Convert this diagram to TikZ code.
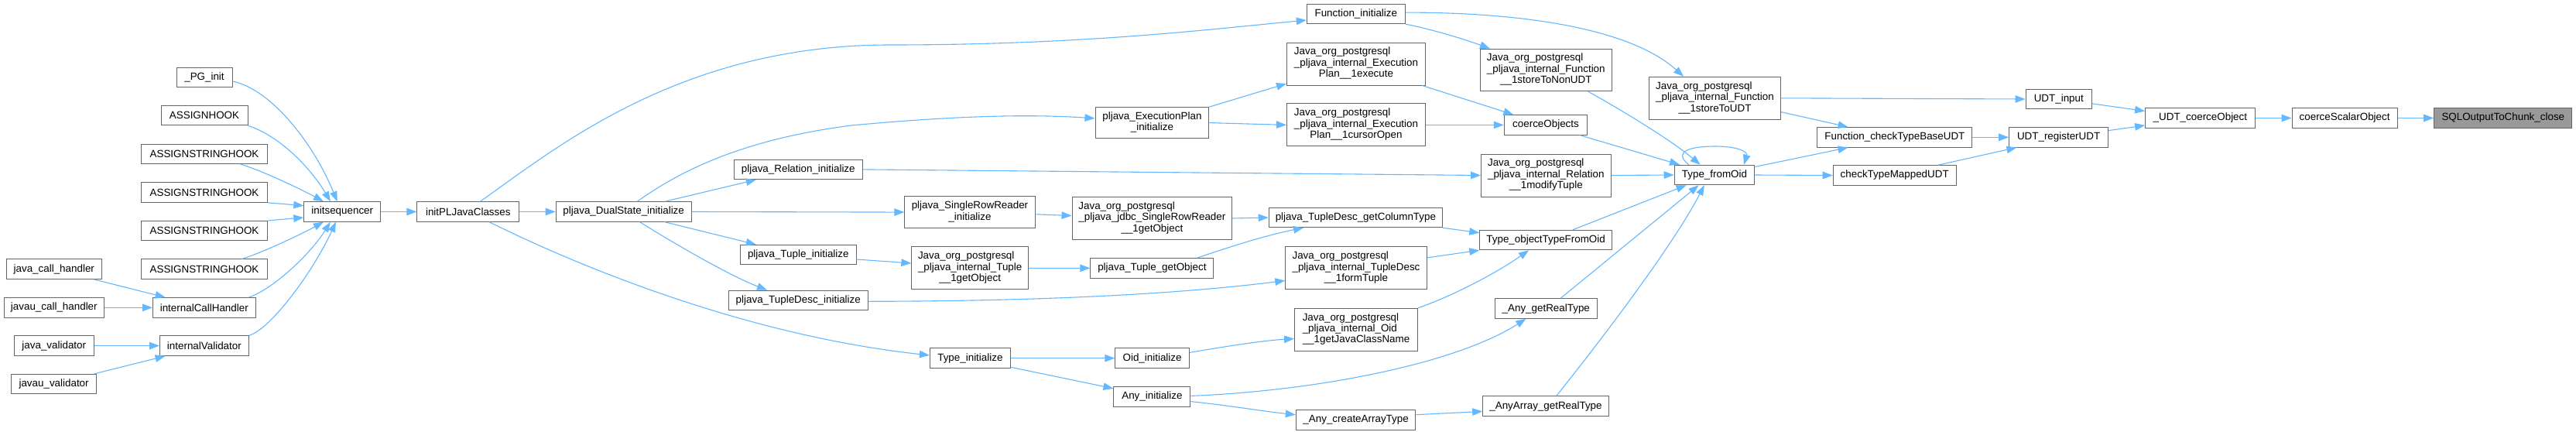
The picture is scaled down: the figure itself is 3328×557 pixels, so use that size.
\documentclass[tikz,border=0pt]{standalone}
\usepackage{fontspec}
\setmainfont{Liberation Sans}
\usetikzlibrary{arrows.meta,calc}
\definecolor{edgec}{HTML}{63B8FF}
\definecolor{borderc}{HTML}{666666}
\definecolor{rootc}{HTML}{999999}
\newcommand{\threel}[3]{\begin{tabular}{@{}l@{}}#1\\#2\\\multicolumn{1}{@{}c@{}}{#3}\end{tabular}}
\newcommand{\twol}[2]{\begin{tabular}{@{}c@{}}#1\\#2\end{tabular}}
\newcommand{\mknode}[6]{\node[box,minimum width=#4pt,minimum height=#5pt] (#1) at (#2,#3) {#6};}
\begin{document}
\begin{tikzpicture}[x=1pt,y=-1pt,
  box/.style={draw=borderc,line width=1pt,fill=white,inner sep=0pt,font=\fontsize{13.4pt}{14.4pt}\selectfont},
  e/.style={draw=edgec,line width=1.1pt,-{Triangle[length=13pt,width=9.5pt]}}]
\fill[white] (0,0) rectangle (3328,557);
\useasboundingbox (0,0) rectangle (3328,557);
% nodes
\mknode{pg}{264}{99.8}{72}{25.5}{\_PG\_init}
\mknode{ah}{264}{149.1}{112}{25.5}{ASSIGNHOOK}
\mknode{ash1}{264}{198.8}{163}{25.5}{ASSIGNSTRINGHOOK}
\mknode{ash2}{264}{248.6}{163}{25.5}{ASSIGNSTRINGHOOK}
\mknode{ash3}{264}{298.2}{163}{25.5}{ASSIGNSTRINGHOOK}
\mknode{ash4}{264}{347.7}{163}{25.5}{ASSIGNSTRINGHOOK}
\mknode{jch}{69.8}{347.7}{123}{25.5}{java\_call\_handler}
\mknode{juch}{69.8}{397.3}{129.6}{25.5}{javau\_call\_handler}
\mknode{ich}{263.8}{397.3}{132.5}{25.5}{internalCallHandler}
\mknode{jv}{69.8}{446.6}{103}{25.5}{java\_validator}
\mknode{iv}{263.9}{446.6}{115}{25.5}{internalValidator}
\mknode{juv}{69.6}{496.2}{110}{25.5}{javau\_validator}
\mknode{iseq}{442.3}{273.5}{99}{25.5}{initsequencer}
\mknode{ipjc}{604.8}{273.5}{131.8}{25.5}{initPLJavaClasses}
\mknode{ds}{805.7}{273.5}{175}{25.5}{pljava\_DualState\_initialize}
\mknode{ri}{1031.3}{218.9}{166}{25.5}{pljava\_Relation\_initialize}
\mknode{ti}{1031.3}{329.1}{149.7}{25.5}{pljava\_Tuple\_initialize}
\mknode{tdi}{1031.3}{387.9}{180.3}{25.5}{pljava\_TupleDesc\_initialize}
\mknode{epi}{1488.4}{158.6}{146.8}{40}{\twol{pljava\_ExecutionPlan}{\_initialize}}
\mknode{srri}{1253}{274.1}{168.2}{40.4}{\twol{pljava\_SingleRowReader}{\_initialize}}
\mknode{jsrr}{1488.4}{282}{206.8}{54.6}{\threel{Java\_org\_postgresql}{\_pljava\_jdbc\_SingleRowReader}{\_\_1getObject}}
\mknode{jtgo}{1253.2}{346.4}{150.7}{55}{\threel{Java\_org\_postgresql}{\_pljava\_internal\_Tuple}{\_\_1getObject}}
\mknode{tgo}{1488.4}{346.3}{159}{25.5}{pljava\_Tuple\_getObject}
\mknode{tyi}{1253.4}{462.7}{104}{25.5}{Type\_initialize}
\mknode{oi}{1488.6}{462.7}{95.7}{25.5}{Oid\_initialize}
\mknode{ai}{1488.4}{512.3}{99}{25.5}{Any\_initialize}
\mknode{gct}{1751.4}{281}{224.3}{25.5}{pljava\_TupleDesc\_getColumnType}
\mknode{fi}{1751.8}{17.9}{127}{25.5}{Function\_initialize}
\mknode{jex}{1752}{82.5}{179}{55}{\threel{Java\_org\_postgresql}{\_pljava\_internal\_Execution}{Plan\_\_1execute}}
\mknode{jco}{1752}{161.4}{179}{55}{\threel{Java\_org\_postgresql}{\_pljava\_internal\_Execution}{Plan\_\_1cursorOpen}}
\mknode{jsnu}{1997.3}{90.5}{169.6}{54.6}{\threel{Java\_org\_postgresql}{\_pljava\_internal\_Function}{\_\_1storeToNonUDT}}
\mknode{co}{1997}{161.4}{107.5}{25.5}{coerceObjects}
\mknode{jmt}{1997.3}{226.5}{167.5}{55}{\threel{Java\_org\_postgresql}{\_pljava\_internal\_Relation}{\_\_1modifyTuple}}
\mknode{tf}{2215}{226}{103.6}{25.5}{Type\_fromOid}
\mknode{jsu}{2215.5}{126.8}{169.7}{55}{\threel{Java\_org\_postgresql}{\_pljava\_internal\_Function}{\_\_1storeToUDT}}
\mknode{toto}{1997.1}{310}{170.7}{25.5}{Type\_objectTypeFromOid}
\mknode{jft}{1752}{346.4}{182.5}{55}{\threel{Java\_org\_postgresql}{\_pljava\_internal\_TupleDesc}{\_\_1formTuple}}
\mknode{jgjcn}{1752}{425.7}{159}{55}{\threel{Java\_org\_postgresql}{\_pljava\_internal\_Oid}{\_\_1getJavaClassName}}
\mknode{agrt}{1997.3}{398.6}{131.8}{25.5}{\_Any\_getRealType}
\mknode{acat}{1751.6}{542.3}{154.6}{25.5}{\_Any\_createArrayType}
\mknode{aagrt}{1997}{524.6}{162.5}{25.5}{\_AnyArray\_getRealType}
\mknode{udti}{2659.8}{128}{85.4}{25.5}{UDT\_input}
\mknode{fctb}{2447.9}{177.3}{200}{25.5}{Function\_checkTypeBaseUDT}
\mknode{udtr}{2659.6}{177.3}{127.9}{25.5}{UDT\_registerUDT}
\mknode{ctm}{2447.7}{226.5}{159}{25.5}{checkTypeMappedUDT}
\mknode{udtc}{2842.4}{152.5}{141.6}{25.5}{\_UDT\_coerceObject}
\mknode{cso}{3029.1}{152.5}{136.2}{25.5}{coerceScalarObject}
\node[box,fill=rootc,minimum width=178.2pt,minimum height=25.5pt] (sql) at (3233.8,152.5) {SQLOutputToChunk\_close};
% edges
\draw[e] ($(pg.east)+(0,5.2)$) .. controls (350,115) and (405,185) .. ($(iseq.north)+(-6.6,0)$);
\draw[e] (ah.south east) .. controls (360,175) and (400,215) .. ($(iseq.north)+(-15.3,0)$);
\draw[e] ($(ash1.south)+(46.7,0)$) .. controls (340,221) and (390,245) .. ($(iseq.north)+(-24.4,0)$);
\draw[e] (ash2.south east) -- ($(iseq.west)+(0,-7.9)$);
\draw[e] (ash3.north east) -- ($(iseq.west)+(0,7.5)$);
\draw[e] ($(ash4.north)+(48.5,0)$) .. controls (340,326) and (390,302) .. ($(iseq.south)+(-24.4,0)$);
\draw[e] ($(ich.north)+(57.6,0)$) .. controls (350,375) and (400,330) .. ($(iseq.south)+(-15.5,0)$);
\draw[e] (iv.north east) .. controls (350,425) and (405,350) .. ($(iseq.south)+(-8.4,0)$);
\draw[e] ($(jch.south)+(51.6,0)$) -- ($(ich.north)+(-50.2,0)$);
\draw[e] (juch.east) -- (ich.west);
\draw[e] (jv.east) -- (iv.west);
\draw[e] ($(juv.north)+(51.8,0)$) -- ($(iv.south)+(-50.3,0)$);
\draw[e] (iseq.east) -- (ipjc.west);
\draw[e] (ipjc.east) -- (ds.west);
\draw[e] ($(ipjc.north)+(15.6,0)$) .. controls (720,190) and (880,58) .. (1150,58) .. controls (1400,58) and (1560,38) .. ($(fi.west)+(0,8.2)$);
\draw[e] ($(ipjc.south)+(27.3,0)$) .. controls (770,355) and (980,435) .. ($(tyi.west)+(0,-3.8)$);
\draw[e] ($(ds.north)+(17.5,0)$) .. controls (880,220) and (960,180) .. (1100,162) .. controls (1250,148) and (1340,148) .. ($(epi.west)+(0,-5.7)$);
\draw[e] ($(ds.north)+(53.2,0)$) -- ($(ri.south)+(-54.5,0)$);
\draw[e] (ds.east) -- (srri.west);
\draw[e] ($(ds.south)+(53.2,0)$) -- ($(ti.north)+(-54.5,0)$);
\draw[e] ($(ds.south)+(21.1,0)$) .. controls (860,308) and (940,355) .. ($(tdi.north)+(-40.3,0)$);
\draw[e] (epi.north east) -- ($(jex.west)+(0,25.5)$);
\draw[e] (epi.east) -- (jco.west);
\draw[e] (ri.east) -- (jmt.west);
\draw[e] ($(srri.east)+(0,2.7)$) -- ($(jsrr.west)+(0,-3.4)$);
\draw[e] (jsrr.east) -- (gct.west);
\draw[e] ($(ti.east)+(0,5.9)$) -- ($(jtgo.west)+(0,-6.4)$);
\draw[e] (jtgo.east) -- (tgo.west);
\draw[e] ($(tgo.north)+(58.3,0)$) .. controls (1580,322) and (1630,305) .. ($(gct.south)+(-67.4,0)$);
\draw[e] ($(tdi.east)+(0,1.4)$) .. controls (1400,389) and (1560,375) .. ($(jft.west)+(0,16.1)$);
\draw[e] (tyi.east) -- (oi.west);
\draw[e] ($(tyi.east)+(0,11.6)$) -- ($(ai.west)+(0,-10.5)$);
\draw[e] ($(oi.east)+(0,-7.3)$) .. controls (1580,448) and (1630,440) .. ($(jgjcn.west)+(0,11.8)$);
\draw[e] ($(ai.east)+(0,-0.9)$) .. controls (1700,505) and (1880,470) .. ($(agrt.south)+(-25.9,0)$);
\draw[e] ($(ai.east)+(0,6.3)$) .. controls (1590,524) and (1630,531) .. ($(acat.west)+(0,-6.6)$);
\draw[e] (fi.south east) .. controls (1850,38) and (1890,50) .. ($(jsnu.north)+(-72.3,0)$);
\draw[e] ($(fi.east)+(0,-1.8)$) .. controls (1980,16) and (2110,40) .. ($(jsu.north)+(-40.5,0)$);
\draw[e] ($(jex.south)+(85.5,0)$) -- ($(co.north)+(-41.6,0)$);
\draw[e] (jco.east) -- (co.west);
\draw[e] ($(jsnu.south)+(54.5,0)$) .. controls (2100,145) and (2160,182) .. ($(tf.north)+(-18.3,0)$);
\draw[e] ($(co.south)+(44.1,0)$) -- ($(tf.north)+(-45,0)$);
\draw[e] (jmt.east) -- (tf.west);
\draw[e] (gct.south east) -- ($(toto.west)+(0,-9.3)$);
\draw[e] ($(jft.east)+(0,-13.5)$) -- (toto.south west);
\draw[e] (jgjcn.north east) .. controls (1870,385) and (1930,355) .. ($(toto.south)+(-22.1,0)$);
\draw[e] ($(toto.north)+(35,0)$) -- ($(tf.south)+(-36.4,0)$);
\draw[e] ($(agrt.north)+(18.7,0)$) -- ($(tf.south)+(-20.4,0)$);
\draw[e] ($(aagrt.north)+(13.7,0)$) .. controls (2060,450) and (2160,320) .. ($(tf.south)+(-13.2,0)$);
\draw[e] ($(acat.east)+(0,-6.6)$) -- ($(aagrt.west)+(0,6.8)$);
\draw[e] ($(tf.north)+(-33.3,0)$) .. controls (2160,195) and (2185,189) .. (2216,189) .. controls (2245,189) and (2258,196) .. ($(tf.north)+(38,0)$);
\draw[e] (jsu.east) -- (udti.west);
\draw[e] ($(jsu.east)+(0,17.8)$) -- ($(fctb.north)+(-60.4,0)$);
\draw[e] ($(tf.east)+(0,-10.5)$) -- ($(fctb.south)+(-60.4,0)$);
\draw[e] (tf.east) -- (ctm.west);
\draw[e] (fctb.east) -- (udtr.west);
\draw[e] ($(ctm.north)+(55.9,0)$) -- ($(udtr.south)+(-54.2,0)$);
\draw[e] ($(udti.east)+(0,5.9)$) -- ($(udtc.west)+(0,-9)$);
\draw[e] ($(udtr.east)+(0,-8.7)$) -- ($(udtc.west)+(0,9.5)$);
\draw[e] (udtc.east) -- (cso.west);
\draw[e] (cso.east) -- (sql.west);
\end{tikzpicture}
\end{document}
